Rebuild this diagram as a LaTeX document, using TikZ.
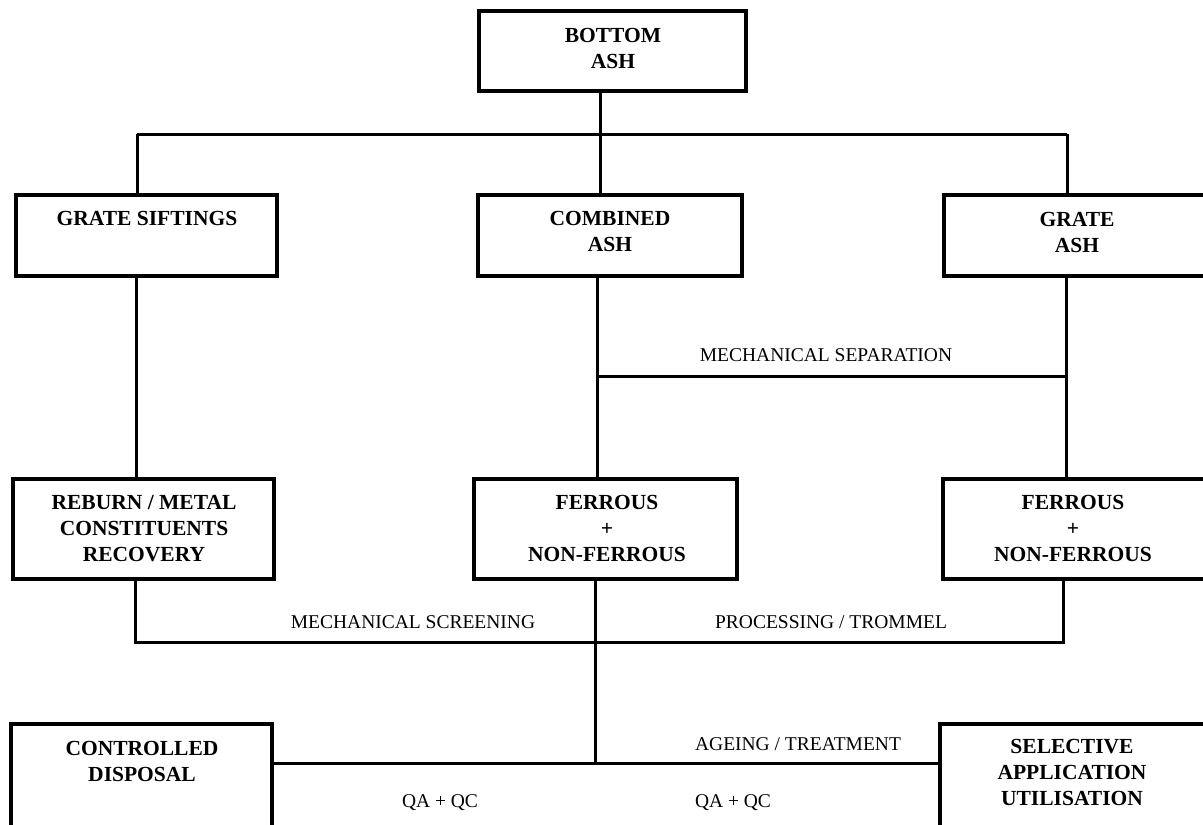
\documentclass[tikz,border=0pt]{standalone}
\usepackage{fontspec}
\setmainfont{Liberation Serif}
\begin{document}
\begin{tikzpicture}[x=1pt,y=-1pt,
  box/.style={draw, line width=3.2pt, rectangle, inner sep=0pt},
  conn/.style={line width=3pt},
  boxtext/.style={font=\fontsize{21.5}{26}\selectfont\bfseries, align=center, inner sep=0pt},
  lbl/.style={font=\fontsize{19.5}{22}\selectfont, inner sep=0pt}]
\useasboundingbox (0,0) rectangle (1203,825);
\clip (0,0) rectangle (1203,825);
% boxes
\node[box, minimum width=267pt, minimum height=80pt]  (bottom)     at (612.5,51) {};
\node[box, minimum width=261pt, minimum height=81pt]  (sift)       at (146.5,235.5) {};
\node[box, minimum width=264pt, minimum height=81pt]  (combined)   at (610,235.5) {};
\node[box, minimum width=271pt, minimum height=81pt]  (grate)      at (1079.5,235.5) {};
\node[box, minimum width=261pt, minimum height=100pt] (reburn)     at (143.5,529) {};
\node[box, minimum width=263pt, minimum height=100pt] (ferrous)    at (605.5,529) {};
\node[box, minimum width=272pt, minimum height=100pt] (ferrousr)   at (1079,529) {};
\node[box, minimum width=261pt, minimum height=116pt] (controlled) at (141.5,782) {};
\node[box, minimum width=275pt, minimum height=116pt] (selective)  at (1077.5,782) {};
% box texts
\node[boxtext] (tbottom)   at (613,48.5) {BOTTOM\\ASH};
\node[boxtext] (tsift)     at (147,218) {GRATE SIFTINGS};
\node[boxtext] (tcombined) at (610,231) {COMBINED\\ASH};
\node[boxtext] (tgrate)    at (1077,232) {GRATE\\ASH};
\node[boxtext] (treburn)   at (144,529) {REBURN / METAL\\CONSTITUENTS\\RECOVERY};
\node[boxtext] (tferrous)  at (607,528) {FERROUS\\+\\NON-FERROUS};
\node[boxtext] (tferrousr) at (1073,528) {FERROUS\\+\\NON-FERROUS};
\node[boxtext] (tcontrol)  at (142,761) {CONTROLLED\\DISPOSAL};
\node[boxtext] (tselect)   at (1072,772) {SELECTIVE\\APPLICATION\\UTILISATION};
% junction coordinates
\coordinate (tj) at (600,134);
\coordinate (tl) at (137,134);
\coordinate (tr) at (1067,134);
\coordinate (lx) at (136,0);
\coordinate (sj) at (597,376);
\coordinate (sr) at (1066,376);
\coordinate (bl) at (135,642);
\coordinate (br) at (1063,642);
\coordinate (bc) at (595,642);
\coordinate (dj) at (595,763);
% connectors
\draw[conn] (bottom.south -| tj) -- (combined.north -| tj);
\draw[conn] (tl) -- (tr);
\draw[conn] (tl) -- (sift.north -| tl);
\draw[conn] (tr) -- (grate.north -| tr);
\draw[conn] (sift.south -| lx) -- (reburn.north -| lx);
\draw[conn] (combined.south -| sj) -- (ferrous.north -| sj);
\draw[conn] (sj) -- (sr);
\draw[conn] (grate.south -| sr) -- (ferrousr.north -| sr);
\draw[conn] (reburn.south -| bl) -- (bl) -- (br) -- (ferrousr.south -| br);
\draw[conn] (ferrous.south -| bc) -- (dj);
\draw[conn] (controlled.east |- dj) -- (selective.west |- dj);
% labels
\node[lbl] (lsep)   at (826,355) {MECHANICAL SEPARATION};
\node[lbl] (lscr)   at (413,622) {MECHANICAL SCREENING};
\node[lbl] (lproc)  at (831,622) {PROCESSING / TROMMEL};
\node[lbl] (lage)   at (798,744) {AGEING / TREATMENT};
\node[lbl] (lqa1)   at (440,803) {QA + QC};
\node[lbl] (lqa2)   at (733,803) {QA + QC};
\end{tikzpicture}
\end{document}
